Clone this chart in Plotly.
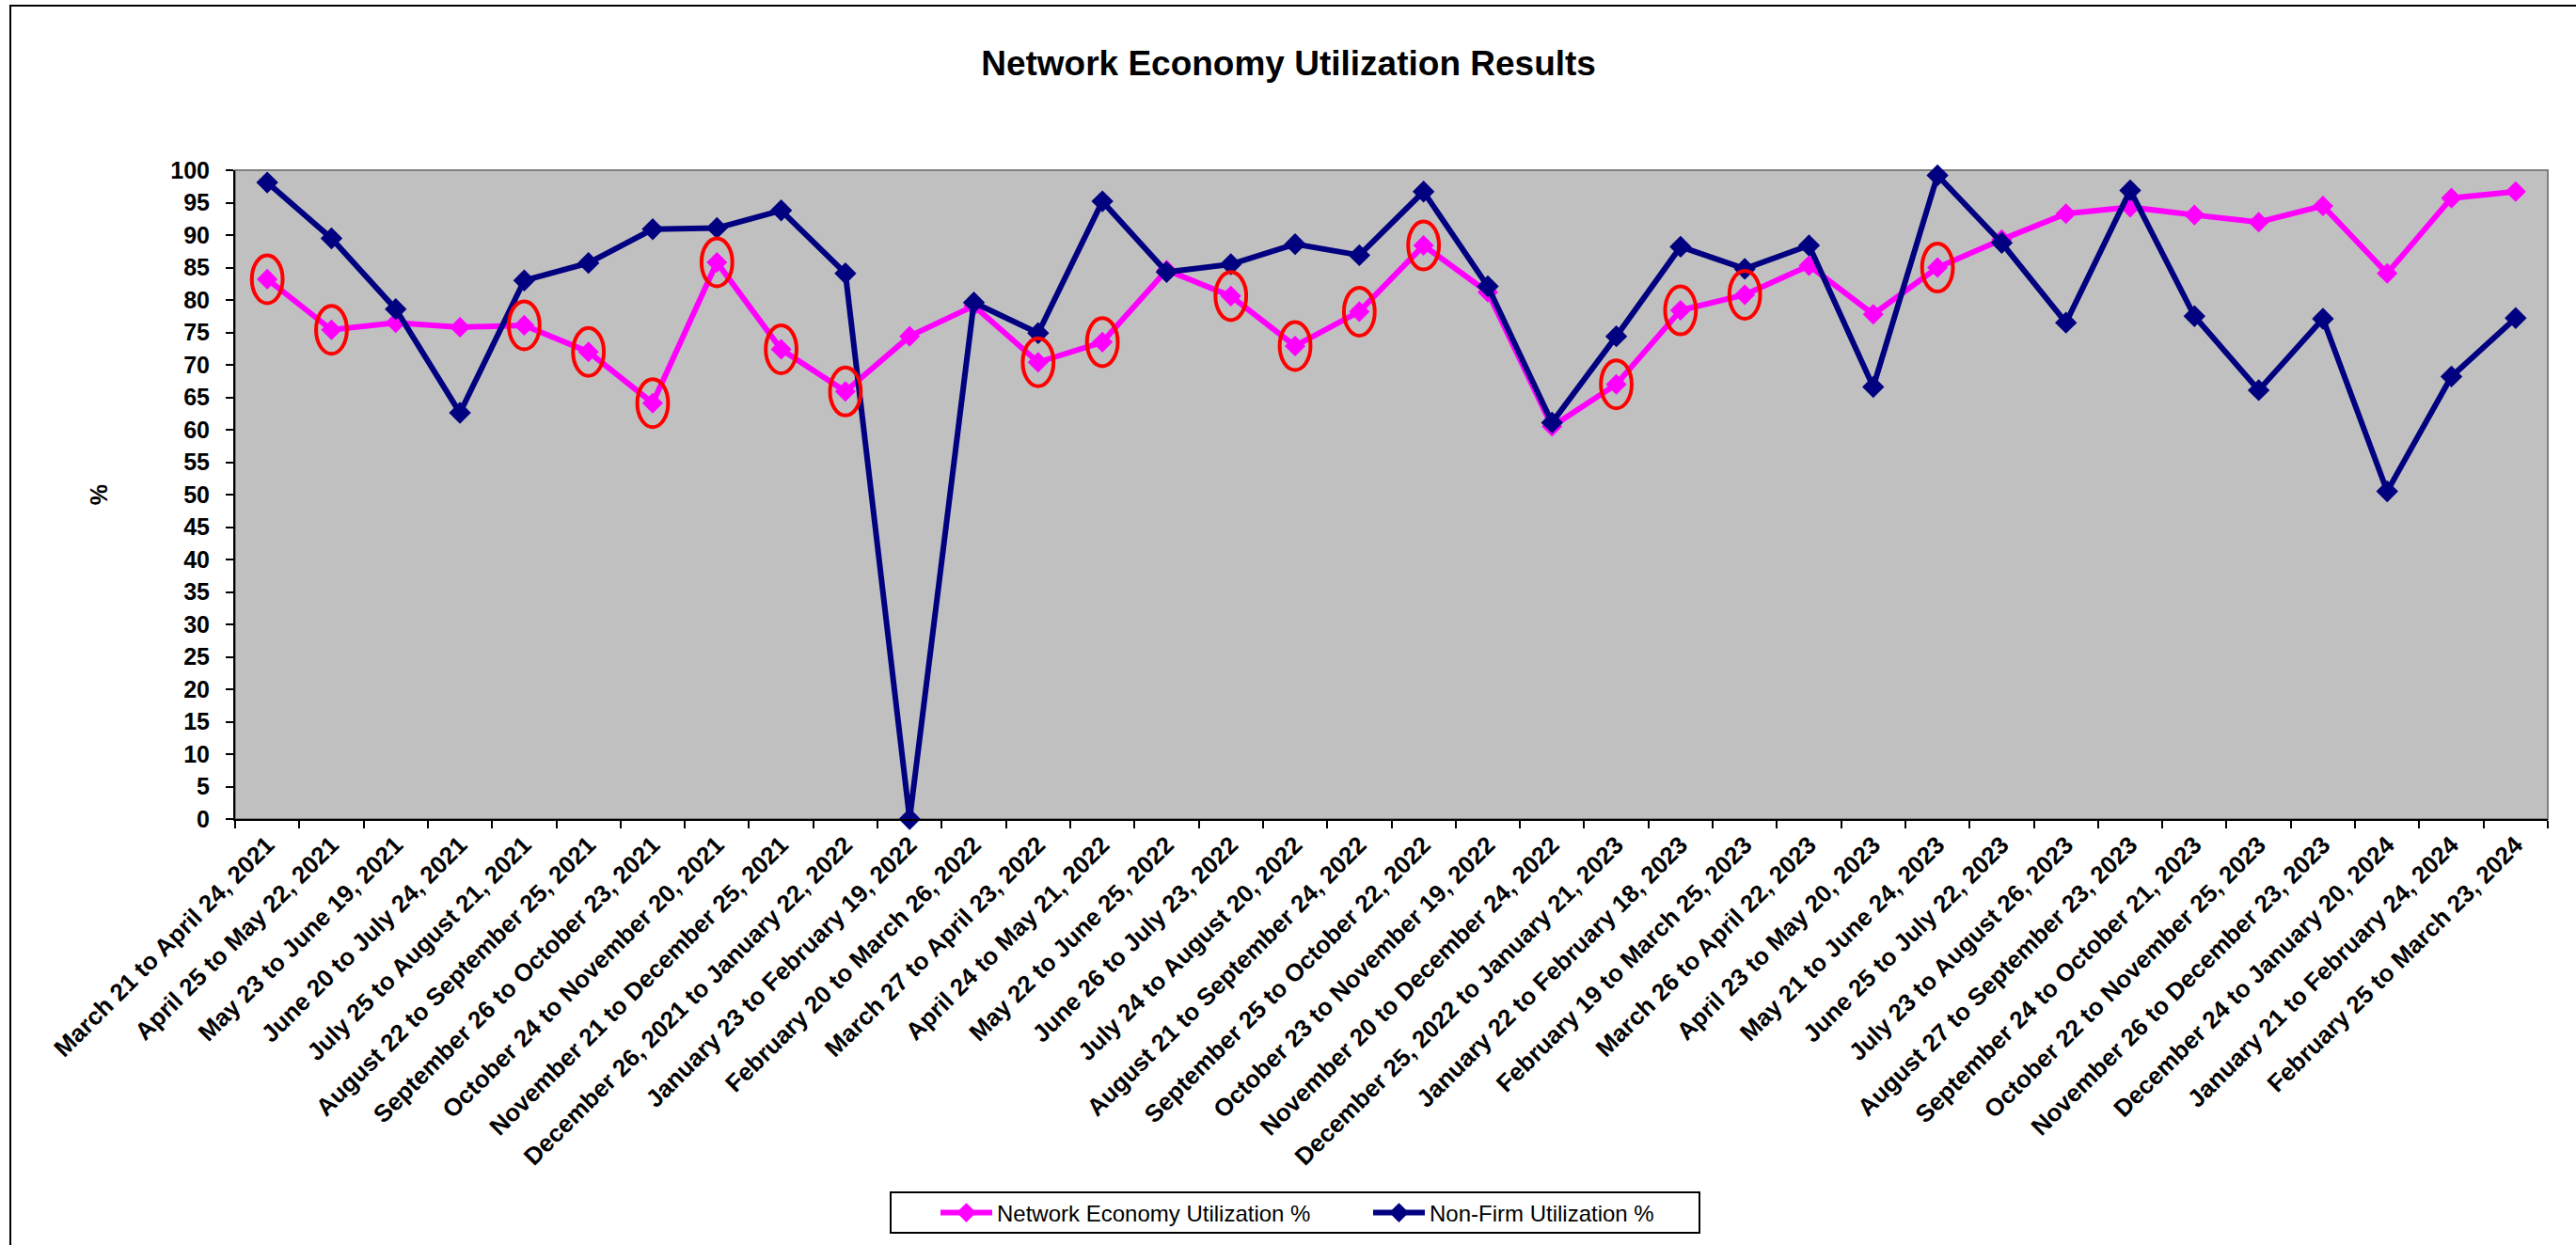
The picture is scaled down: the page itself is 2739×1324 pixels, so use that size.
import plotly.graph_objects as go

categories = [
    "March 21 to April 24, 2021", "April 25 to May 22, 2021", "May 23 to June 19, 2021",
    "June 20 to July 24, 2021", "July 25 to August 21, 2021", "August 22 to September 25, 2021",
    "September 26 to October 23, 2021", "October 24 to November 20, 2021",
    "November 21 to December 25, 2021", "December 26, 2021 to January 22, 2022",
    "January 23 to February 19, 2022", "February 20 to March 26, 2022",
    "March 27 to April 23, 2022", "April 24 to May 21, 2022", "May 22 to June 25, 2022",
    "June 26 to July 23, 2022", "July 24 to August 20, 2022", "August 21 to September 24, 2022",
    "September 25 to October 22, 2022", "October 23 to November 19, 2022",
    "November 20 to December 24, 2022", "December 25, 2022 to January 21, 2023",
    "January 22 to February 18, 2023", "February 19 to March 25, 2023",
    "March 26 to April 22, 2023", "April 23 to May 20, 2023", "May 21 to June 24, 2023",
    "June 25 to July 22, 2023", "July 23 to August 26, 2023", "August 27 to September 23, 2023",
    "September 24 to October 21, 2023", "October 22 to November 25, 2023",
    "November 26 to December 23, 2023", "December 24 to January 20, 2024",
    "January 21 to February 24, 2024", "February 25 to March 23, 2024",
]

network_economy = [83.2, 75.4, 76.5, 75.8, 76.1, 72.0, 64.1, 85.8, 72.4, 65.9, 74.4, 79.1,
                   70.4, 73.5, 84.6, 80.6, 72.9, 78.2, 88.4, 81.2, 60.5, 67.0, 78.4, 80.8,
                   85.3, 77.8, 85.0, 89.3, 93.3, 94.3, 93.1, 92.0, 94.5, 84.1, 95.7, 96.7]

non_firm = [98.1, 89.5, 78.6, 62.6, 83.0, 85.7, 90.9, 91.1, 93.8, 84.1, 0.0, 79.6,
            74.9, 95.2, 84.3, 85.5, 88.6, 86.9, 96.7, 82.1, 61.1, 74.4, 88.2, 84.8,
            88.4, 66.6, 99.2, 88.8, 76.5, 96.9, 77.5, 66.1, 77.1, 50.5, 68.2, 77.2]

# indices of Network Economy points highlighted with red ellipses
circled = [0, 1, 4, 5, 6, 7, 8, 9, 12, 13, 15, 16, 17, 18, 21, 22, 23, 26]

y_ticks = list(range(0, 101, 5))

FONT = "Liberation Sans, Arial, sans-serif"
W, H = 2739, 1324
ML, MR, MT, MB = 250, 30, 181, 453
PW, PH = W - ML - MR, H - MT - MB


def px_x(p):
    return (p - ML) / PW


def px_y(p):
    return (H - MB - p) / PH


fig = go.Figure()
fig.add_trace(go.Scatter(
    x=categories, y=network_economy, mode="lines+markers",
    name="Network Economy Utilization %",
    line=dict(color="#FF00FF", width=6),
    marker=dict(symbol="diamond", size=17, color="#FF00FF"),
    cliponaxis=False,
))
fig.add_trace(go.Scatter(
    x=categories, y=non_firm, mode="lines+markers",
    name="Non-Firm Utilization %",
    line=dict(color="#000080", width=6),
    marker=dict(symbol="diamond", size=18, color="#000080"),
    cliponaxis=False,
))

shapes = []
for i in circled:
    v = network_economy[i]
    shapes.append(dict(type="circle", xref="x", yref="y",
                       x0=i - 0.24, x1=i + 0.24, y0=v - 3.7, y1=v + 3.7,
                       line=dict(color="#FF0000", width=4), layer="above"))
# plot-area gray frame
shapes.append(dict(type="rect", xref="paper", yref="paper", x0=0, x1=1, y0=0, y1=1,
                   line=dict(color="#808080", width=2), layer="below"))
# outer chart border (top/left visible)
shapes.append(dict(type="rect", xref="paper", yref="paper",
                   x0=px_x(11), x1=px_x(W + 6), y0=px_y(H + 6), y1=px_y(6),
                   line=dict(color="#000000", width=2)))
# legend box
shapes.append(dict(type="rect", xref="paper", yref="paper",
                   x0=px_x(947), x1=px_x(1807), y0=px_y(1311), y1=px_y(1268),
                   line=dict(color="#000000", width=2), fillcolor="white", layer="below"))

fig.update_layout(
    width=W, height=H,
    margin=dict(l=ML, r=MR, t=MT, b=MB, autoexpand=False),
    paper_bgcolor="white", plot_bgcolor="#C0C0C0",
    font=dict(family=FONT, color="black"),
    title=dict(text="Network Economy Utilization Results", x=0.5002, xref="container",
               xanchor="center", y=1 - 67 / H, yref="container", yanchor="middle",
               font=dict(size=37, weight="bold", family=FONT)),
    showlegend=True,
    legend=dict(orientation="h", xref="container", yref="container",
                x=995 / W, xanchor="left", y=1 - 1290 / H, yanchor="middle",
                bgcolor="rgba(0,0,0,0)", borderwidth=0, itemwidth=55,
                entrywidth=390, font=dict(size=24, family=FONT)),
    shapes=shapes,
)
fig.update_xaxes(
    type="category", tickson="boundaries", ticks="outside", ticklen=8,
    tickwidth=2, tickcolor="black", showline=True, linecolor="black", linewidth=2,
    showgrid=False, tickangle=-45, range=[-0.5, len(categories) - 0.5],
    tickfont=dict(size=26, weight="bold", family=FONT), zeroline=False,
)
fig.update_yaxes(
    range=[0, 100], tickvals=y_ticks, ticks="outside", ticklen=8, tickwidth=2,
    tickcolor="black", showline=True, linecolor="black", linewidth=2, showgrid=False,
    zeroline=False, tickfont=dict(size=25, weight="bold", family=FONT),
    ticklabelstandoff=12,
    title=dict(text="%", standoff=60, font=dict(size=25, weight="bold", family=FONT)),
)

fig.write_html("out.html", config={"displayModeBar": False},
               post_script="document.body.style.margin='0';")
